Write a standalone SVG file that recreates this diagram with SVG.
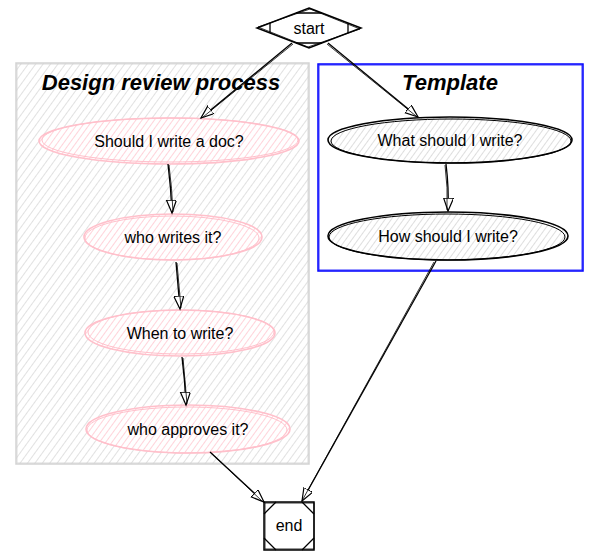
<svg xmlns="http://www.w3.org/2000/svg" width="599" height="555" viewBox="0 0 599 555">
<defs>
<style>
text{font-family:"Liberation Sans",Arial,sans-serif;fill:#000;}
.lbl{font-size:16px;text-anchor:middle;}
.title{font-size:22px;font-weight:bold;font-style:italic;text-anchor:middle;}
.pink{fill:url(#hatchPink);stroke:#ffc0cb;stroke-width:1.6;}
.pink2{fill:none;stroke:#ffc0cb;stroke-width:1;}
.blk{fill:url(#hatchGray);stroke:#000;stroke-width:1.6;}
.blk2{fill:none;stroke:#000;stroke-width:1;}
.edge{fill:none;stroke:#000;stroke-width:1.3;}
.edge2{fill:none;stroke:#000;stroke-width:0.8;}
</style>
<pattern id="hatchCluster" width="6" height="6" patternUnits="userSpaceOnUse" patternTransform="rotate(36)">
<line x1="0" y1="0" x2="0" y2="6" stroke="#d4d4d4" stroke-width="1.4"/>
</pattern>
<pattern id="hatchPink" width="5" height="5" patternUnits="userSpaceOnUse" patternTransform="rotate(36)">
<rect width="5" height="5" fill="#fff"/>
<line x1="0" y1="0" x2="0" y2="5" stroke="#ffc0cb" stroke-width="1.4"/>
</pattern>
<pattern id="hatchGray" width="5" height="5" patternUnits="userSpaceOnUse" patternTransform="rotate(36)">
<rect width="5" height="5" fill="#fff"/>
<line x1="0" y1="0" x2="0" y2="5" stroke="#c4c4c4" stroke-width="1.1"/>
</pattern>
<marker id="arrow" markerWidth="16" markerHeight="12" refX="13" refY="5" orient="auto" markerUnits="userSpaceOnUse">
<path d="M0,0 L13,5 L0,10 Z" fill="#fff" stroke="#000" stroke-width="1.2"/>
</marker>
</defs>
<rect width="599" height="555" fill="#fff"/>

<g id="cluster_design">
<rect x="16" y="63" width="293" height="401" fill="url(#hatchCluster)" stroke="#d3d3d3" stroke-width="1.5"/>
<rect x="17" y="64" width="291" height="399" fill="none" stroke="#d3d3d3" stroke-width="0.8"/>
<text class="title" x="161" y="90">Design review process</text>
</g>

<g id="cluster_template">
<rect x="318" y="64" width="265" height="207" fill="#fff" stroke="#0000ff" stroke-width="1.5"/>
<rect x="319" y="65" width="263" height="205" fill="none" stroke="#0000ff" stroke-width="0.8"/>
<text class="title" x="450" y="90">Template</text>
</g>

<g id="start">
<polygon points="309,8 361,28 309,48 257,28" fill="#fff" stroke="#000" stroke-width="1.5"/>
<polygon points="310,9 360,29 308,47 258,27" fill="none" stroke="#000" stroke-width="0.8"/>
<path d="M296,13 L322,13 M296,43 L322,43 M270,23 L270,33 M348,23 L348,33" stroke="#000" stroke-width="1.3" fill="none"/>
<text class="lbl" x="309" y="34">start</text>
</g>

<g id="q_doc">
<ellipse class="pink" cx="169" cy="141" rx="130" ry="23"/>
<ellipse class="pink2" cx="170" cy="140" rx="128" ry="22"/>
<text class="lbl" x="169" y="147">Should I write a doc?</text>
</g>

<g id="q_who">
<ellipse class="pink" cx="173" cy="237" rx="89" ry="23"/>
<ellipse class="pink2" cx="172" cy="238" rx="87" ry="22"/>
<text class="lbl" x="173" y="243">who writes it?</text>
</g>

<g id="q_when">
<ellipse class="pink" cx="180" cy="333" rx="95" ry="23"/>
<ellipse class="pink2" cx="181" cy="332" rx="93" ry="22"/>
<text class="lbl" x="180" y="339">When to write?</text>
</g>

<g id="q_approve">
<ellipse class="pink" cx="188" cy="429" rx="102" ry="24"/>
<ellipse class="pink2" cx="187" cy="430" rx="100" ry="23"/>
<text class="lbl" x="188" y="435">who approves it?</text>
</g>

<g id="t_what">
<ellipse class="blk" cx="450" cy="140" rx="122" ry="23"/>
<ellipse class="blk2" cx="451" cy="141" rx="120" ry="22"/>
<text class="lbl" x="450" y="146">What should I write?</text>
</g>

<g id="t_how">
<ellipse class="blk" cx="448" cy="236" rx="120" ry="24"/>
<ellipse class="blk2" cx="447" cy="237" rx="118" ry="23"/>
<text class="lbl" x="448" y="242">How should I write?</text>
</g>

<g id="end">
<rect x="264" y="502" width="50" height="48" fill="#fff" stroke="#000" stroke-width="1.5"/>
<rect x="265" y="503" width="49" height="46" fill="none" stroke="#000" stroke-width="0.8"/>
<path d="M264,514 L276,502 M302,502 L314,514 M264,538 L276,550 M302,550 L314,538" stroke="#000" stroke-width="1.3" fill="none"/>
<text class="lbl" x="289" y="531">end</text>
</g>

<g id="connectors">
<path class="edge" d="M292,43 L201,118" marker-end="url(#arrow)"/>
<path class="edge2" d="M293,44 L203,117"/>
<path class="edge" d="M328,43 L418,117" marker-end="url(#arrow)"/>
<path class="edge2" d="M327,44 L416,116"/>
<path class="edge" d="M168,164 Q171,188 172,213" marker-end="url(#arrow)"/>
<path class="edge2" d="M169,165 Q172,188 173,212"/>
<path class="edge" d="M176,262 Q178,286 180,309" marker-end="url(#arrow)"/>
<path class="edge2" d="M177,263 Q179,286 181,308"/>
<path class="edge" d="M182,357 Q185,381 186,405" marker-end="url(#arrow)"/>
<path class="edge2" d="M183,358 Q185,381 187,404"/>
<path class="edge" d="M210,452 L264,502" marker-end="url(#arrow)"/>
<path class="edge2" d="M211,453 L262,501"/>
<path class="edge" d="M436,261 L302,501" marker-end="url(#arrow)"/>
<path class="edge2" d="M434,262 L303,499"/>
<path class="edge" d="M446,164 Q449,188 448,211" marker-end="url(#arrow)"/>
<path class="edge2" d="M445,165 Q448,188 447,210"/>
</g>
</svg>
